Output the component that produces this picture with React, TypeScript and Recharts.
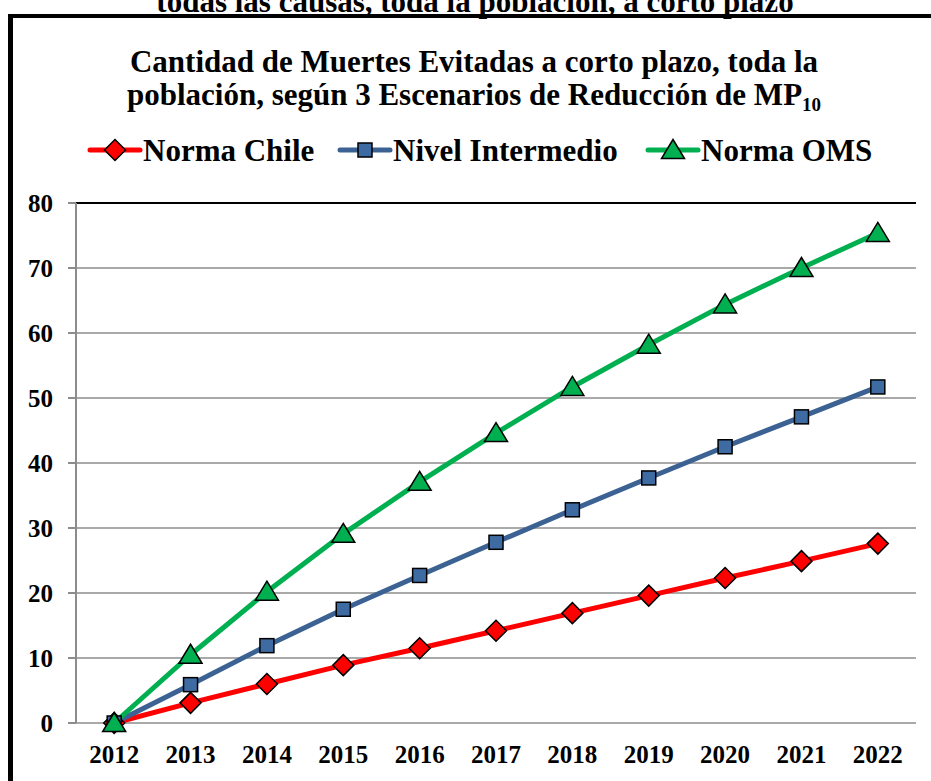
import React from 'react';
import { LineChart, Line, XAxis, YAxis, CartesianGrid, ReferenceLine } from 'recharts';

const years = ['2012', '2013', '2014', '2015', '2016', '2017', '2018', '2019', '2020', '2021', '2022'];
const normaChile = [0, 3.1, 6.0, 8.9, 11.5, 14.2, 16.9, 19.6, 22.3, 24.9, 27.6];
const nivelIntermedio = [0, 5.9, 11.9, 17.5, 22.7, 27.8, 32.8, 37.7, 42.5, 47.1, 51.7];
const normaOMS = [0, 10.5, 20.2, 29.1, 37.1, 44.6, 51.7, 58.2, 64.4, 70.0, 75.4];
const yTicks = [0, 10, 20, 30, 40, 50, 60, 70, 80];
const boundaryTicks = [0, 1, 2, 3, 4, 5, 6, 7, 8, 9, 10, 11];

const captionText = 'todas las causas, toda la población, a corto plazo';
const titleLine1 = 'Cantidad de Muertes Evitadas a corto plazo, toda la';
const titleLine2 = 'población, según 3 Escenarios de Reducción de MP';

const data = years.map((y, i) => ({
  year: y,
  chile: normaChile[i],
  inter: nivelIntermedio[i],
  oms: normaOMS[i],
}));

const FONT = "'Liberation Serif', 'Times New Roman', serif";
const RED = '#FF0000';
const BLUE = '#3B6293';
const BLUE_FILL = '#3F6BA3';
const GREEN = '#00B050';
const GRAY = '#8C8C8C';

const Diamond = ({ cx, cy }: { cx: number; cy: number }) => (
  <path d={`M${cx},${cy - 10.5} L${cx + 10.5},${cy} L${cx},${cy + 10.5} L${cx - 10.5},${cy} Z`} fill={RED} stroke="#000" strokeWidth={1.5} />
);
const Square = ({ cx, cy }: { cx: number; cy: number }) => (
  <rect x={cx - 7} y={cy - 7} width={14} height={14} fill={BLUE_FILL} stroke="#000" strokeWidth={1.5} />
);
const Triangle = ({ cx, cy }: { cx: number; cy: number }) => (
  <path d={`M${cx},${cy - 10.5} L${cx + 11.5},${cy + 8.5} L${cx - 11.5},${cy + 8.5} Z`} fill={GREEN} stroke="#000" strokeWidth={1.5} />
);

const dotRenderer = (Shape: any) => (props: any) => {
  const { cx, cy, index } = props;
  if (cx == null || cy == null) return <g key={`d-${index}`} />;
  return (
    <g key={`d-${index}`}>
      <Shape cx={cx} cy={cy} />
    </g>
  );
};

const legendItems = [
  { name: 'Norma Chile', color: RED, Shape: Diamond, x: 90 },
  { name: 'Nivel Intermedio', color: BLUE, Shape: Square, x: 340 },
  { name: 'Norma OMS', color: GREEN, Shape: Triangle, x: 648 },
];

export default function App() {
  return (
    <div style={{ position: 'absolute', left: 0, top: 0, width: 931, height: 781, overflow: 'hidden', background: '#fff' }}>
      <div
        style={{
          position: 'absolute',
          left: 8,
          top: 14,
          width: 960,
          height: 820,
          borderLeft: '5px solid #000',
          borderTop: '4px solid #000',
          boxSizing: 'border-box',
        }}
      />
      <svg width={931} height={781} style={{ position: 'absolute', left: 0, top: 0 }}>
        <text x={475} y={12} textAnchor="middle" fontFamily={FONT} fontWeight="bold" fontSize={31} fill="#000">
          {captionText}
        </text>
        <text x={474} y={72} textAnchor="middle" fontFamily={FONT} fontWeight="bold" fontSize={31} fill="#000">
          {titleLine1}
        </text>
        <text x={474} y={105} textAnchor="middle" fontFamily={FONT} fontWeight="bold" fontSize={31} fill="#000">
          {titleLine2}
          <tspan fontSize={19} dy={6}>10</tspan>
        </text>
        {legendItems.map((it) => (
          <g key={it.name}>
            <line x1={it.x} x2={it.x + 50} y1={150} y2={150} stroke={it.color} strokeWidth={5} strokeLinecap="round" />
            <it.Shape cx={it.x + 25} cy={150} />
            <text x={it.x + 53} y={161} fontFamily={FONT} fontWeight="bold" fontSize={31} fill="#000">
              {it.name}
            </text>
          </g>
        ))}
      </svg>
      <div style={{ position: 'absolute', left: 0, top: 0 }}>
        <LineChart width={931} height={781} data={data} margin={{ top: 203, right: 15, bottom: 8, left: 0 }}>
          <CartesianGrid vertical={false} stroke={GRAY} strokeWidth={1.5} />
          <XAxis
            xAxisId="b"
            type="number"
            domain={[0, 11]}
            ticks={boundaryTicks}
            height={0}
            tick={false}
            tickSize={8}
            axisLine={{ stroke: GRAY, strokeWidth: 2 }}
            tickLine={{ stroke: GRAY, strokeWidth: 2 }}
            allowDataOverflow
          />
          <XAxis
            xAxisId="c"
            dataKey="year"
            scale="band"
            height={50}
            axisLine={false}
            tickLine={false}
            tickSize={8}
            tickMargin={14}
            interval={0}
            tick={{ fontFamily: FONT, fontWeight: 'bold', fontSize: 25, fill: '#000' }}
          />
          <YAxis
            domain={[0, 80]}
            ticks={yTicks}
            width={76}
            tickSize={8}
            tickMargin={15}
            axisLine={{ stroke: GRAY, strokeWidth: 2 }}
            tickLine={{ stroke: GRAY, strokeWidth: 2 }}
            tick={{ fontFamily: FONT, fontWeight: 'bold', fontSize: 25, fill: '#000' }}
            interval={0}
          />
          <ReferenceLine y={80} xAxisId="c" stroke="#000" strokeWidth={2} />
          <ReferenceLine x={11} xAxisId="b" stroke="#000" strokeWidth={2} />
          <Line xAxisId="c" dataKey="chile" name="Norma Chile" stroke={RED} strokeWidth={5} dot={dotRenderer(Diamond)} activeDot={false} isAnimationActive={false} />
          <Line xAxisId="c" dataKey="inter" name="Nivel Intermedio" stroke={BLUE} strokeWidth={5} dot={dotRenderer(Square)} activeDot={false} isAnimationActive={false} />
          <Line xAxisId="c" dataKey="oms" name="Norma OMS" stroke={GREEN} strokeWidth={5} dot={dotRenderer(Triangle)} activeDot={false} isAnimationActive={false} />
        </LineChart>
      </div>
    </div>
  );
}
